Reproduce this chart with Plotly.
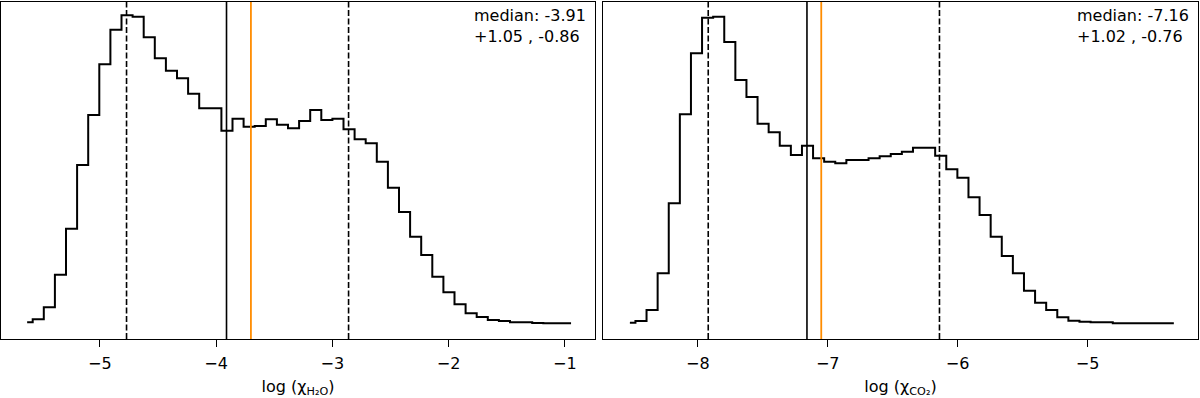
import numpy as np
import plotly.graph_objects as go
from plotly.subplots import make_subplots

# histogram heights (arbitrary units), 50 bins per panel
h2o_counts = [16.7, 19.7, 31.7, 64.3, 110.3, 174, 224, 274.7, 309.3, 323.7,
              322.3, 301.7, 280.7, 268.3, 260.7, 245.3, 230.7, 230.7, 208.3, 220.3,
              212.3, 213, 219.7, 214.3, 210.7, 218, 229, 219, 220.3, 209.7,
              199.7, 195.7, 177.3, 151.3, 127, 102.3, 84, 62.3, 46.7, 34.7,
              25.7, 22, 19, 18, 16.7, 16.7, 16, 15.7, 15.7, 15.7]
co2_counts = [16.3, 18, 29, 65.7, 135.7, 224.7, 285.7, 321.3, 322.3, 297,
              259, 242, 215.3, 206.7, 193.3, 184, 193.3, 180.7, 177.3, 175.7,
              179, 179, 180.7, 182.7, 185, 187.3, 191.3, 191.3, 183.3, 169.7,
              161.3, 141.7, 124, 102.3, 83, 65.7, 48.3, 36.3, 29, 21.7,
              18.3, 17.3, 16.7, 16.7, 15.7, 15.7, 15.7, 15.7, 15.7, 15.7]

# first and last bin centres
h2o_bins = (-5.625, -0.946)
co2_bins = (-8.523, -4.336)

# median, +err, -err, and the orange reference value
h2o_stats = (-3.91, 1.05, 0.86, -3.70)
co2_stats = (-7.16, 1.02, 0.76, -7.05)

h2o_xrange = [-5.85, -0.74]
co2_xrange = [-8.73, -4.15]
h2o_ticks = [-5, -4, -3, -2, -1]
co2_ticks = [-8, -7, -6, -5]

fig = make_subplots(rows=1, cols=2)

panels = [
    (h2o_counts, h2o_bins, h2o_stats, h2o_xrange, h2o_ticks, "log (χ<sub>H₂O</sub>)"),
    (co2_counts, co2_bins, co2_stats, co2_xrange, co2_ticks, "log (χ<sub>CO₂</sub>)"),
]

for i, (counts, bins, stats, xr, ticks, title) in enumerate(panels):
    col = i + 1
    centres = np.linspace(bins[0], bins[1], len(counts))
    fig.add_trace(go.Scatter(x=centres, y=counts, mode="lines",
                             line=dict(color="black", width=2, shape="hvh"),
                             showlegend=False, hoverinfo="skip"),
                  row=1, col=col)

    med, up, lo, ref = stats
    fig.add_vline(x=med - lo, line=dict(color="black", width=1.6, dash="6px,2.5px"), row=1, col=col)
    fig.add_vline(x=med + up, line=dict(color="black", width=1.6, dash="6px,2.5px"), row=1, col=col)
    fig.add_vline(x=med, line=dict(color="black", width=1.6), row=1, col=col)
    fig.add_vline(x=ref, line=dict(color="darkorange", width=1.8), row=1, col=col)

    xname = "x" if col == 1 else "x2"
    yname = "y" if col == 1 else "y2"
    fig.add_annotation(xref=xname + " domain", yref=yname + " domain",
                       x=0.988, y=0.995, xanchor="right", yanchor="top",
                       align="left", showarrow=False,
                       text=f"median: {med:.2f}<br>+{up:.2f} , -{lo:.2f}",
                       font=dict(size=16, color="black"))

    fig.update_xaxes(range=xr, tickvals=ticks, ticks="outside", ticklen=7,
                     tickwidth=1.2, tickcolor="black", showgrid=False,
                     zeroline=False, showline=True, mirror=True,
                     linecolor="black", linewidth=1.2, automargin=False,
                     ticklabelstandoff=3,
                     title=dict(text=title, standoff=10, font=dict(size=16)),
                     tickfont=dict(size=16), row=1, col=col)
    fig.update_yaxes(range=[0, 337], showticklabels=False, ticks="",
                     showgrid=False, zeroline=False, showline=True, mirror=True,
                     linecolor="black", linewidth=1.2, automargin=False,
                     row=1, col=col)

fig.update_layout(
    width=1200, height=398,
    margin=dict(l=0, r=0, t=2, b=59, autoexpand=False),
    paper_bgcolor="white", plot_bgcolor="white",
    font=dict(family="DejaVu Sans", color="black"),
    xaxis=dict(domain=[1 / 1200, 595 / 1200]),
    xaxis2=dict(domain=[603 / 1200, 1198 / 1200]),
)

# drop the default 8px page margin so the figure sits at the window's corner
fig.write_html("out.html", config={"displayModeBar": False},
               post_script="document.body.style.margin = '0px';")
